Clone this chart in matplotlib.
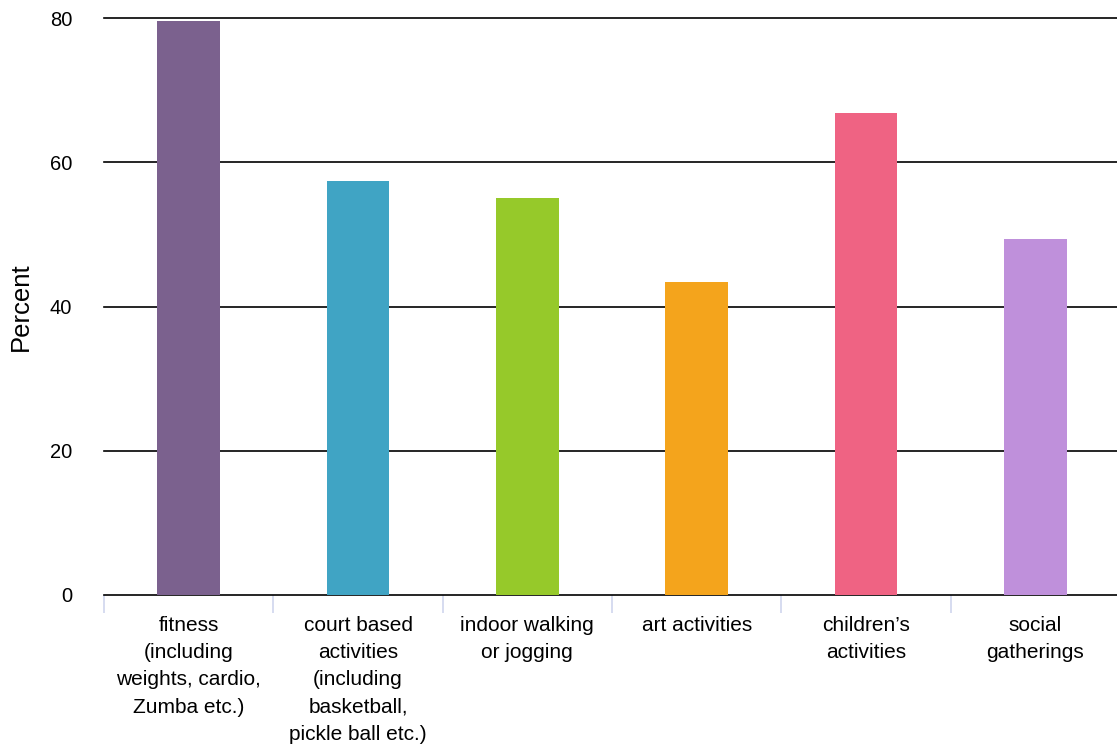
import matplotlib.pyplot as plt
import numpy as np

plt.rcParams['font.family'] = ['Liberation Sans', 'DejaVu Sans']

# survey results by activity type
categories = [
    "fitness\n(including\nweights, cardio,\nZumba etc.)",
    "court based\nactivities\n(including\nbasketball,\npickle ball etc.)",
    "indoor walking\nor jogging",
    "art activities",
    "children\u2019s\nactivities",
    "social\ngatherings",
]
percent = [79.6, 57.4, 55.0, 43.4, 66.8, 49.4]
colors = ["#7B618E", "#40A4C4", "#96C92A", "#F4A41C", "#EF6383", "#BF90DB"]
yticks = [0, 20, 40, 60, 80]

fig = plt.figure(figsize=(11.17, 7.46), dpi=100)
ax = fig.add_axes([104 / 1117, 151 / 746, 1016 / 1117, 577 / 746])

x = np.arange(len(categories)) + 0.5
ax.bar(x, percent, width=0.372, color=colors, zorder=3)

ax.set_xlim(0, len(categories))
ax.set_ylim(0, 80)
for y in yticks:
    ax.axhline(y, color="black", lw=1.2, zorder=2, clip_on=False)

for s in ax.spines.values():
    s.set_visible(False)

ax.set_yticks(yticks)
ax.tick_params(axis="y", length=0, pad=23, labelsize=14.5)

ax.set_xticks(x)
ax.set_xticklabels(categories, fontsize=15, linespacing=1.55, va="top")
ax.tick_params(axis="x", which="major", length=0, pad=15)
ax.set_xticks(np.arange(len(categories) + 1), minor=True)
ax.tick_params(axis="x", which="minor", length=13, width=1.2, color="#D0D6EE")

ax.set_ylabel("Percent", fontsize=18.5, labelpad=12)

fig.savefig("out.png", dpi=100)
